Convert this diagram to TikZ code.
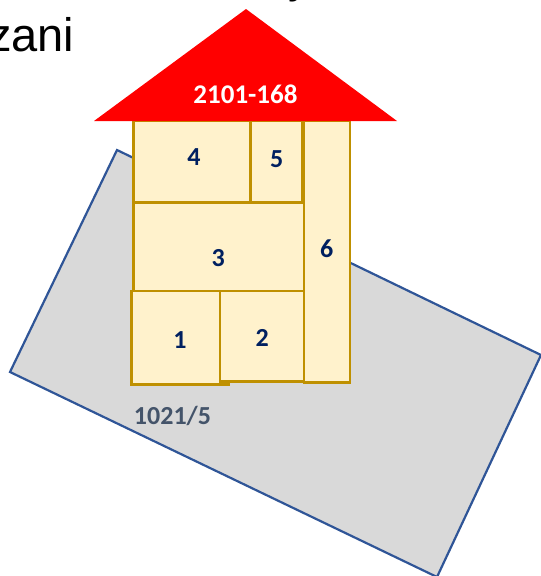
\documentclass[tikz,border=0pt]{standalone}
\usepackage{fontspec}
\setmainfont{Carlito}
\newfontfamily\arialfont{Liberation Sans}
\definecolor{parcelfill}{HTML}{D9D9D9}
\definecolor{parcelline}{HTML}{2F5597}
\definecolor{roomline}{HTML}{BF9000}
\definecolor{roomfill}{HTML}{FFF2CC}
\definecolor{navy}{HTML}{002060}
\definecolor{slate}{HTML}{44546A}
\definecolor{roofred}{HTML}{FF0000}
\begin{document}
\begin{tikzpicture}[x=1pt,y=-1pt,
  room/.style={draw=roomline,fill=roomfill,line width=2.6pt},
  roomlabel/.style={text=navy,font=\bfseries\fontsize{26}{30}\selectfont,inner sep=0pt},
  parcel/.style={draw=parcelline,fill=parcelfill,line width=2.2pt,line join=miter}]
\useasboundingbox (0,0) rectangle (541,576);
\clip (0,0) rectangle (541,576);
% heading fragments
\node[anchor=base west,inner sep=0pt,font=\arialfont\fontsize{47}{50}\selectfont] (head) at (-12,51) {zani};
\node[anchor=base west,inner sep=0pt,font=\arialfont\fontsize{46}{50}\selectfont] (headtop) at (288,-8) {y};
% parcel
\coordinate (pa) at (117,150);
\coordinate (pb) at (541,355);
\coordinate (pc) at (437,577);
\coordinate (pd) at (10,372);
\draw[parcel] (pa) -- (pb) -- (pc) -- (pd) -- cycle;
\node[text=slate,font=\bfseries\fontsize{26}{30}\selectfont,inner sep=0pt] (plabel) at (172.5,415.5) {1021/5};
% rooms
\draw[room] (133.3,120.7) rectangle (250.3,202.3);
\draw[room] (250.3,120.7) rectangle (302.3,202.3);
\draw[room] (304,120.7) rectangle (350,382.7);
\draw[room] (133.3,203) rectangle (304,291);
\draw[roomline,line width=2.8pt] (220,384.6) -- (230,384.6);
\draw[room] (131.7,291) rectangle (220,384.3);
\draw[room] (220,291) rectangle (304,381.7);
% roof
\coordinate (ra) at (94,121);
\coordinate (rb) at (246,9);
\coordinate (rc) at (397,121);
\fill[roofred] (ra) -- (rb) -- (rc) -- cycle;
\node[text=white,font=\bfseries\fontsize{27}{30}\selectfont,inner sep=0pt] (roof) at (245.5,94) {2101-168};
% labels
\node[roomlabel] (r4) at (194,157) {4};
\node[roomlabel] (r5) at (276.7,159) {5};
\node[roomlabel] (r6) at (326.7,249) {6};
\node[roomlabel] (r3) at (218.3,258) {3};
\node[roomlabel] (r1) at (180,340) {1};
\node[roomlabel] (r2) at (262.3,338) {2};
\end{tikzpicture}
\end{document}
